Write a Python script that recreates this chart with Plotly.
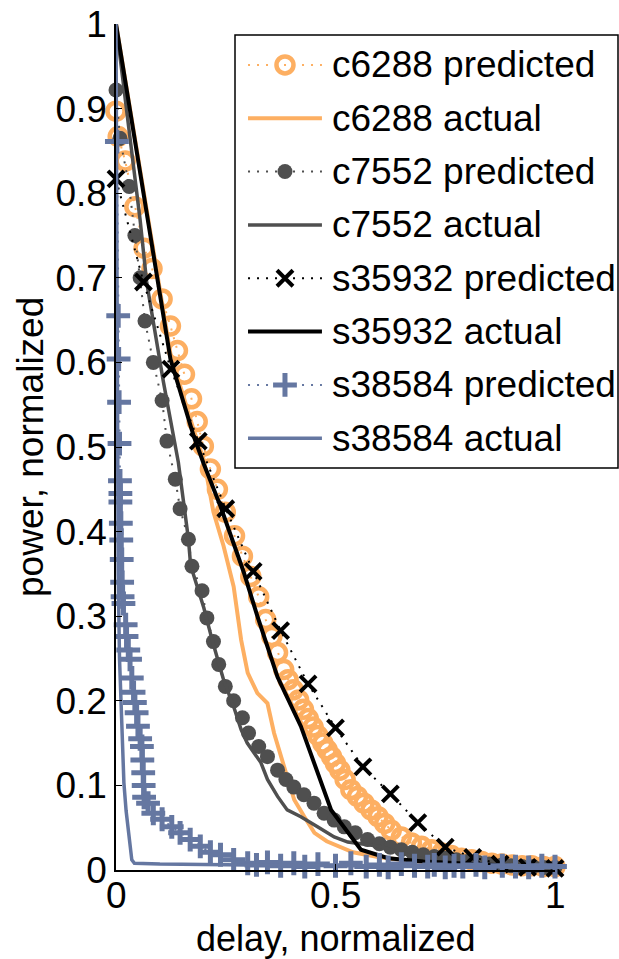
import plotly.graph_objects as go

# ---------------- data ----------------
c6288_pred_x = [0, 0.005, 0.021, 0.043, 0.064, 0.082, 0.105, 0.124, 0.14, 0.156, 0.172, 0.185, 0.199,
                0.215, 0.231, 0.249, 0.27, 0.288, 0.307, 0.325, 0.341, 0.355, 0.368, 0.382, 0.392,
                0.404, 0.416, 0.427, 0.438, 0.449, 0.46, 0.471, 0.481, 0.491, 0.5, 0.51, 0.522,
                0.535, 0.55, 0.565, 0.581, 0.597, 0.612, 0.627, 0.65, 0.673, 0.696, 0.719, 0.742,
                0.764, 0.787, 0.81, 0.833, 0.856, 0.879, 0.902, 0.925, 0.947, 0.974, 1.0]
c6288_pred_y = [0.897, 0.867, 0.838, 0.784, 0.735, 0.711, 0.675, 0.643, 0.614, 0.586, 0.557, 0.53, 0.501,
                0.474, 0.45, 0.423, 0.395, 0.371, 0.347, 0.323, 0.296, 0.276, 0.257, 0.237, 0.225,
                0.213, 0.201, 0.19, 0.179, 0.169, 0.159, 0.15, 0.142, 0.134, 0.126, 0.118, 0.107,
                0.095, 0.087, 0.079, 0.071, 0.063, 0.055, 0.047, 0.039, 0.032, 0.028, 0.024, 0.02,
                0.017, 0.014, 0.012, 0.01, 0.008, 0.007, 0.006, 0.005, 0.005, 0.004, 0.004]

c6288_act_x = [0, 0.085, 0.124, 0.177, 0.2, 0.222, 0.245, 0.268, 0.285, 0.3, 0.322, 0.345, 0.36,
               0.383, 0.406, 0.429, 0.452, 0.48, 0.51, 0.54, 0.6, 0.7, 0.8, 0.9, 1.0]
c6288_act_y = [1.0, 0.735, 0.61, 0.52, 0.485, 0.423, 0.383, 0.335, 0.272, 0.233, 0.209, 0.197, 0.162,
               0.122, 0.083, 0.063, 0.044, 0.034, 0.027, 0.021, 0.015, 0.009, 0.006, 0.004, 0.003]

c7552_pred_x = [0, 0.009, 0.03, 0.043, 0.055, 0.066, 0.085, 0.105, 0.116, 0.135, 0.146, 0.165, 0.173,
                0.196, 0.207, 0.222, 0.234, 0.249, 0.268, 0.288, 0.302, 0.325, 0.345, 0.368, 0.387,
                0.405, 0.428, 0.451, 0.474, 0.497, 0.52, 0.545, 0.573, 0.6, 0.625, 0.65, 0.675,
                0.7, 0.725, 0.75, 0.775, 0.8, 0.825, 0.85, 0.879, 0.9, 0.925, 0.95, 0.975, 1.0]
c7552_pred_y = [0.922, 0.865, 0.808, 0.75, 0.70, 0.649, 0.6, 0.555, 0.507, 0.462, 0.427, 0.391, 0.359,
                0.33, 0.298, 0.27, 0.243, 0.217, 0.2, 0.18, 0.162, 0.146, 0.134, 0.118, 0.107,
                0.098, 0.089, 0.079, 0.067, 0.059, 0.051, 0.044, 0.036, 0.031, 0.027, 0.024, 0.021,
                0.018, 0.016, 0.014, 0.012, 0.01, 0.009, 0.007, 0.006, 0.005, 0.004, 0.004, 0.003, 0.003]

c7552_act_x = [0, 0.055, 0.07, 0.108, 0.142, 0.165, 0.17, 0.2, 0.22, 0.245, 0.27, 0.285, 0.299, 0.33,
               0.345, 0.368, 0.39, 0.421, 0.459, 0.497, 0.528, 0.56, 0.6, 0.65, 0.7, 0.8, 0.9, 1.0]
c7552_act_y = [1.0, 0.768, 0.694, 0.577, 0.482, 0.391, 0.36, 0.31, 0.27, 0.225, 0.19, 0.166, 0.15, 0.127,
               0.107, 0.087, 0.071, 0.063, 0.051, 0.039, 0.033, 0.031, 0.028, 0.02, 0.013, 0.008, 0.005, 0.003]

s35932_pred_x = [0, 0.0625, 0.125, 0.1875, 0.25, 0.3125, 0.375, 0.4375, 0.5, 0.5625, 0.625, 0.6875,
                 0.75, 0.8125, 0.875, 0.9375, 1.0]
s35932_pred_y = [0.817, 0.695, 0.592, 0.507, 0.427, 0.353, 0.283, 0.22, 0.168, 0.122, 0.09, 0.056,
                 0.027, 0.015, 0.007, 0.003, 0.002]

s35932_act_x = [0, 0.085, 0.124, 0.177, 0.2, 0.238, 0.268, 0.291, 0.322, 0.368, 0.421, 0.49, 0.558,
                0.62, 0.7, 0.8, 0.9, 1.0]
s35932_act_y = [1.0, 0.73, 0.604, 0.513, 0.48, 0.43, 0.385, 0.352, 0.3, 0.228, 0.17, 0.071, 0.024,
                0.014, 0.01, 0.007, 0.005, 0.004]

s38584_pred_x = [0.002, 0.005, 0.006, 0.007, 0.008, 0.009, 0.010, 0.010, 0.011, 0.012, 0.013, 0.014,
                 0.015, 0.017, 0.022, 0.024, 0.028, 0.032, 0.036, 0.040, 0.043, 0.047, 0.050, 0.055,
                 0.059, 0.060, 0.062, 0.063, 0.064, 0.073, 0.085, 0.105, 0.127, 0.146, 0.169, 0.192,
                 0.215, 0.238, 0.268, 0.3, 0.32, 0.345, 0.375, 0.405, 0.43, 0.46, 0.5, 0.535, 0.57,
                 0.6, 0.62, 0.65, 0.68, 0.71, 0.725, 0.75, 0.77, 0.79, 0.82, 0.84, 0.88, 0.91, 0.94,
                 0.97, 1.0]
s38584_pred_y = [0.861, 0.655, 0.604, 0.553, 0.504, 0.46, 0.445, 0.435, 0.41, 0.39, 0.367, 0.34,
                 0.323, 0.315, 0.29, 0.276, 0.26, 0.249, 0.227, 0.21, 0.198, 0.186, 0.17, 0.155,
                 0.146, 0.13, 0.115, 0.1, 0.086, 0.079, 0.067, 0.06, 0.051, 0.044, 0.036, 0.028,
                 0.021, 0.018, 0.012, 0.008, 0.006, 0.009, 0.005, 0.008, 0.004, 0.007, 0.005, 0.008, 0.004,
                 0.006, 0.003, 0.007, 0.005, 0.004, 0.006, 0.003, 0.005, 0.004, 0.006, 0.003, 0.005, 0.004,
                 0.003, 0.005, 0.004]

s38584_act_x = [0, 0.002, 0.003, 0.005, 0.008, 0.011, 0.014, 0.018, 0.023, 0.028, 0.033, 0.036, 0.042,
                0.1, 0.3, 0.5, 0.7, 1.0]
s38584_act_y = [1.0, 0.7, 0.5, 0.35, 0.25, 0.2, 0.15, 0.103, 0.07, 0.044, 0.02, 0.012, 0.008,
                0.007, 0.006, 0.005, 0.004, 0.003]

x_tickvals = [0, 0.5, 1]
x_ticktext = ["0", "0.5", "1"]
y_tickvals = [0, 0.1, 0.2, 0.3, 0.4, 0.5, 0.6, 0.7, 0.8, 0.9, 1]
y_ticktext = ["0", "0.1", "0.2", "0.3", "0.4", "0.5", "0.6", "0.7", "0.8", "0.9", "1"]

legend_labels = ["c6288 predicted", "c6288 actual", "c7552 predicted", "c7552 actual",
                 "s35932 predicted", "s35932 actual", "s38584 predicted", "s38584 actual"]

# ---------------- styles ----------------
ORANGE = "#FDAF62"
GRAY = "#4F4F4F"
BLACK = "#000000"
BLUE = "#6577A1"
FONT = "Liberation Sans, Arial, Helvetica, sans-serif"
DOT = "2px,7px"
W, H = 619, 959

styles = [
    dict(mode="lines+markers", line=dict(color=ORANGE, width=2, dash=DOT),
         marker=dict(symbol="circle-open", size=17, color=ORANGE, line=dict(width=4.5, color=ORANGE))),
    dict(mode="lines", line=dict(color=ORANGE, width=4)),
    dict(mode="lines+markers", line=dict(color=GRAY, width=2, dash=DOT),
         marker=dict(symbol="circle", size=15, color=GRAY, line=dict(width=0))),
    dict(mode="lines", line=dict(color=GRAY, width=3.5)),
    dict(mode="lines+markers", line=dict(color=BLACK, width=2, dash=DOT),
         marker=dict(symbol="x-thin-open", size=16, color=BLACK, line=dict(width=4, color=BLACK))),
    dict(mode="lines", line=dict(color=BLACK, width=4)),
    dict(mode="lines+markers", line=dict(color=BLUE, width=2, dash=DOT),
         marker=dict(symbol="cross-thin-open", size=17, color=BLUE, line=dict(width=5, color=BLUE))),
    dict(mode="lines", line=dict(color=BLUE, width=3.5)),
]

series = [
    (c6288_pred_x, c6288_pred_y), (c6288_act_x, c6288_act_y),
    (c7552_pred_x, c7552_pred_y), (c7552_act_x, c7552_act_y),
    (s35932_pred_x, s35932_pred_y), (s35932_act_x, s35932_act_y),
    (s38584_pred_x, s38584_pred_y), (s38584_act_x, s38584_act_y),
]

fig = go.Figure()
for (xs, ys), st, name in zip(series, styles, legend_labels):
    fig.add_trace(go.Scatter(x=xs, y=ys, name=name, showlegend=False, cliponaxis=False,
                             xaxis="x", yaxis="y", **st))

# ---------------- custom legend (overlay axes) ----------------
px_l, px_r, px_t, px_b = 116, 555, 24, 870
lg_l, lg_r, lg_t, lg_b = 235, 618, 35, 468
row_step = 0.1232
row_top = 0.931
for i, (st, name) in enumerate(zip(styles, legend_labels)):
    yy = row_top - i * row_step
    fig.add_trace(go.Scatter(x=[0.034, 0.227], y=[yy, yy], mode="lines", line=st["line"],
                             showlegend=False, hoverinfo="skip", xaxis="x2", yaxis="y2"))
    if "marker" in st:
        fig.add_trace(go.Scatter(x=[0.1305], y=[yy], mode="markers", marker=st["marker"],
                                 showlegend=False, hoverinfo="skip", xaxis="x2", yaxis="y2"))
    fig.add_annotation(x=0.248, y=yy, xref="x2", yref="y2", text=name, showarrow=False,
                       xanchor="left", yanchor="middle",
                       font=dict(family=FONT, size=37, color="black"))

fig.add_shape(type="rect", xref="paper", yref="paper",
              x0=lg_l / W, x1=lg_r / W, y0=(H - lg_b) / H, y1=(H - lg_t) / H,
              line=dict(color="black", width=1.5), fillcolor="white", layer="below")

axis_common = dict(showgrid=False, zeroline=False, showline=True, linecolor="black", linewidth=1.5,
                   ticks="inside", ticklen=6, tickwidth=1.2, tickcolor="black", automargin=False,
                   mirror=False)

fig.update_layout(
    template="none",
    width=W, height=H, autosize=False,
    margin=dict(l=0, r=0, t=0, b=0, pad=0),
    paper_bgcolor="white", plot_bgcolor="rgba(0,0,0,0)",
    xaxis=dict(domain=[px_l / W, px_r / W], range=[0, 1], tickvals=x_tickvals, ticktext=x_ticktext,
               showticklabels=False, anchor="y", **axis_common),
    yaxis=dict(domain=[(H - px_b) / H, (H - px_t) / H], range=[0, 1], tickvals=y_tickvals,
               ticktext=y_ticktext, anchor="x", tickfont=dict(family=FONT, size=37, color="black"),
               **axis_common),
    xaxis2=dict(domain=[lg_l / W, lg_r / W], range=[0, 1], visible=False, anchor="y2",
                fixedrange=True, automargin=False),
    yaxis2=dict(domain=[(H - lg_b) / H, (H - lg_t) / H], range=[0, 1], visible=False, anchor="x2",
                fixedrange=True, automargin=False),
    showlegend=False,
)

# x tick labels placed just under the axis (tight, as in the reference)
for tv, tt in zip(x_tickvals, x_ticktext):
    fig.add_annotation(x=tv, y=(H - 895) / H, xref="x", yref="paper", text=tt, showarrow=False,
                       xanchor="center", yanchor="middle", borderpad=0,
                       font=dict(family=FONT, size=37, color="black"))

fig.add_annotation(x=(px_l + px_r) / 2 / W, y=(H - 938) / H, xref="paper", yref="paper",
                   text="delay, normalized", showarrow=False, xanchor="center", yanchor="middle",
                   borderpad=0, font=dict(family=FONT, size=36, color="black"))
fig.add_annotation(x=30 / W, y=(H - (px_t + px_b) / 2) / H, xref="paper", yref="paper",
                   text="power, normalized", showarrow=False, textangle=-90,
                   xanchor="center", yanchor="middle",
                   font=dict(family=FONT, size=37, color="black"))

fig.write_html("out.html")
